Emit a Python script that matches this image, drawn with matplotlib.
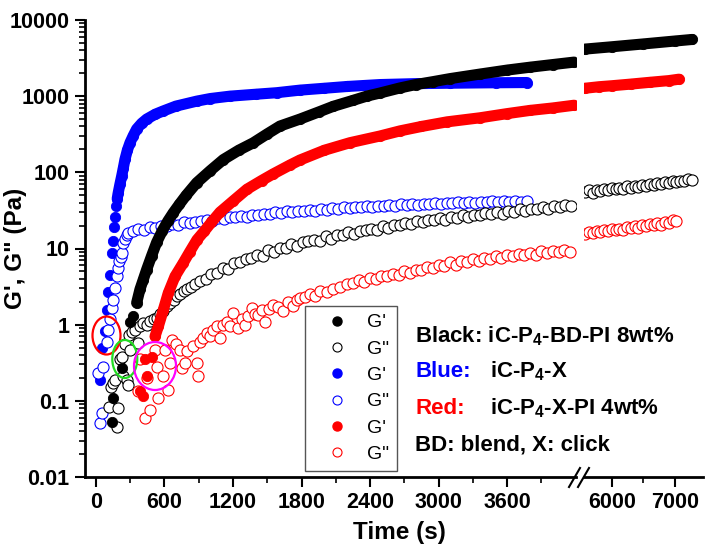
import matplotlib
matplotlib.use("Agg")
import matplotlib.pyplot as plt
import numpy as np
from matplotlib.patches import Ellipse
from matplotlib.lines import Line2D
from matplotlib.ticker import FixedLocator, FixedFormatter, LogLocator, NullFormatter

plt.rcParams['font.family'] = 'Liberation Sans'
plt.rcParams['font.weight'] = 'bold'
plt.rcParams['mathtext.fontset'] = 'custom'
plt.rcParams['mathtext.rm'] = 'Liberation Sans:bold'
plt.rcParams['mathtext.default'] = 'rm'

# ---- data (time in s, modulus in Pa) ----
black_gp_t = [137, 152, 225, 298, 327, 356, 385, 414, 444, 487, 531, 580, 630, 677, 730, 790, 882,
              1000, 1115, 1250, 1377, 1500, 1611, 1786, 1950, 2077, 2250, 2370, 2487, 2660, 2800,
              2950, 3100, 3362, 3600, 3800, 4000, 4186,
              5578, 6000, 6500, 7000, 7265]
black_gp_v = [0.052, 0.108, 0.27, 1.1, 1.29, 1.93, 2.9, 3.9, 5.3, 8.0, 12.0, 17.0, 23.0, 29.5, 38, 50, 73,
              105, 147, 195, 244, 320, 405, 500, 620, 735, 880, 1000, 1100, 1280, 1420,
              1550, 1700, 1950, 2200, 2400, 2600, 2800,
              4150, 4450, 4850, 5300, 5550]

black_gpp_t = [118, 128, 152, 166, 181, 195, 210, 225, 236, 254, 268, 280, 289, 298, 315, 340, 371, 385,
               410, 444, 475, 505, 531, 560, 590, 619, 650, 680, 707, 740, 770, 800, 830, 870, 911,
               960, 1010, 1060, 1110, 1160, 1210, 1260, 1310, 1360, 1410, 1460, 1510, 1560, 1610, 1660,
               1710, 1760, 1810, 1860, 1910, 1960, 2010, 2060, 2110, 2160, 2210, 2260, 2310, 2360, 2410,
               2460, 2510, 2560, 2610, 2660, 2710, 2760, 2810, 2860, 2910, 2960, 3010, 3060, 3110, 3160,
               3210, 3260, 3310, 3360, 3410, 3460, 3510, 3560, 3610, 3660, 3710, 3760, 3810, 3860, 3910,
               3960, 4010, 4060, 4110, 4160,
               5580, 5640, 5700, 5760, 5820, 5880, 5940, 6000, 6060, 6120, 6180, 6240, 6300, 6360, 6420,
               6480, 6540, 6600, 6660, 6720, 6780, 6840, 6900, 6960, 7020, 7080, 7140, 7200, 7260]
black_gpp_v = [0.084, 0.154, 0.17, 0.19, 0.046, 0.080, 0.35, 0.38, 0.21, 0.55, 0.19, 0.16, 0.74, 0.47,
               0.80, 0.85, 0.57, 0.95, 1.05, 1.0, 1.12, 1.18, 1.22, 1.4, 1.5, 1.74, 1.9, 2.1, 2.36, 2.5,
               2.75, 2.9, 3.1, 3.4, 3.7,
               4.0, 4.6, 4.8, 5.5, 5.4, 6.4, 6.6, 7.3, 7.6, 8.3, 8.0, 9.7, 9.1, 10.2, 10.3, 11.6, 10.8,
               12.2, 12.6, 13.0, 12.7, 14.5, 13.5, 15.1, 15.0, 16.6, 15.6, 17.0, 17.3, 18.2, 17.5, 19.8,
               18.6, 20.6, 20.3, 21.8, 21.0, 22.9, 22.6, 23.7, 23.4, 25.4, 23.9, 25.8, 25.3, 27.2, 25.7,
               27.6, 27.4, 29.0, 28.1, 30.6, 28.8, 31.0, 30.3, 32.8, 30.9, 33.5, 33.0, 35.2, 33.4, 36.5,
               34.6, 37.8, 35.9,
               55, 58, 54, 59, 57, 60, 58, 63, 60, 63, 61, 66, 62, 67, 65, 68, 66, 71, 69, 72, 70, 75,
               72, 77, 75, 78, 76, 82, 80]

blue_gp_t = [35, 50, 79, 94, 108, 123, 137, 146, 155, 165, 175, 186, 195, 210, 225, 240, 254, 275, 298,
             325, 356, 400, 444, 520, 590, 700, 882, 1000, 1173, 1400, 1582, 1786, 2000, 2200, 2487,
             2800, 3100, 3500, 3774]
blue_gp_v = [0.19, 0.49, 0.82, 1.57, 2.7, 4.5, 8.8, 12.5, 19, 26, 36, 45, 54, 70, 89, 115, 148, 195, 245,
             300, 370, 440, 500, 580, 640, 740, 860, 930, 1000, 1060, 1110, 1200, 1270, 1340, 1420,
             1460, 1480, 1500, 1510]

blue_gpp_t = [20, 35, 50, 64, 95, 102, 120, 137, 152, 166, 181, 195, 205, 215, 225, 239, 254, 268, 283,
              320, 370, 420, 470, 520, 570, 620, 670, 720, 770, 820, 870, 920, 970, 1020, 1070, 1120,
              1170, 1220, 1270, 1320, 1370, 1420, 1470, 1520, 1570, 1620, 1670, 1720, 1770, 1820, 1870,
              1920, 1970, 2020, 2070, 2120, 2170, 2220, 2270, 2320, 2370, 2420, 2470, 2520, 2570, 2620,
              2670, 2720, 2770, 2820, 2870, 2920, 2970, 3020, 3070, 3120, 3170, 3220, 3270, 3320, 3370,
              3420, 3470, 3520, 3570, 3620, 3670, 3720, 3770]
blue_gpp_v = [0.23, 0.051, 0.069, 0.28, 0.60, 0.86, 1.2, 1.66, 2.1, 3.0, 4.3, 5.6, 6.8, 7.8, 8.8, 11.9,
              13.5, 15.0, 16.0,
              17.2, 18.0, 17.6, 18.9, 18.7, 19.8, 19.5, 21.0, 20.4, 22.0, 21.6, 22.4, 22.9, 23.6, 23.3,
              25.4, 24.3, 25.6, 25.8, 27.1, 26.2, 27.9, 27.4, 28.6, 28.3, 29.8, 29.2, 30.7, 29.9, 31.2,
              30.8, 32.3, 31.4, 32.8, 32.2, 33.7, 33.0, 34.6, 33.6, 35.0, 34.6, 35.7, 35.3, 36.4, 35.8,
              37.1, 36.4, 37.9, 37.0, 38.3, 37.6, 38.9, 38.2, 39.6, 38.6, 40.0, 39.1, 40.6, 39.5, 40.9,
              39.8, 41.3, 40.2, 41.6, 40.5, 41.8, 40.8, 42.0, 41.0, 42.2]

red_gp_t = [385, 414, 429, 444, 487, 517, 546, 590, 633, 692, 765, 820, 884, 950, 1010, 1086, 1200, 1322,
            1450, 1550, 1700, 1786, 2000, 2224, 2487, 2662, 2850, 3074, 3362, 3600, 3800, 4000, 4186,
            5578, 5800, 6000, 6300, 6600, 6900, 7060]
red_gp_v = [0.133, 0.114, 0.35, 0.21, 0.38, 0.70, 0.95, 1.57, 2.6, 4.3, 6.5, 9, 13, 17, 22, 30, 42, 60,
            78, 95, 125, 145, 195, 245, 300, 350, 400, 460, 520, 590, 650, 700, 760,
            1270, 1330, 1370, 1440, 1520, 1600, 1670]

red_gpp_t = [371, 385, 429, 444, 473, 517, 531, 546, 590, 604, 633, 648, 663, 700, 736, 750, 779, 794,
             852, 882, 896, 911, 940, 969, 1000, 1027, 1060, 1086, 1115, 1144, 1175, 1202, 1246, 1275,
             1305, 1335, 1363, 1392, 1421, 1450, 1480, 1515, 1553, 1590, 1640, 1685, 1728, 1760, 1786,
             1830, 1874, 1920, 1961, 2020, 2078, 2140, 2195,
             2250, 2300, 2350, 2400, 2450, 2500, 2550, 2600, 2650, 2700, 2750, 2800, 2850, 2900, 2950,
             3000, 3050, 3100, 3150, 3200, 3250, 3300, 3350, 3400, 3450, 3500, 3550, 3600, 3650, 3700,
             3750, 3800, 3850, 3900, 3950, 4000, 4050, 4100, 4150,
             5580, 5640, 5700, 5760, 5820, 5880, 5940, 6000, 6060, 6120, 6180, 6240, 6300, 6360, 6420,
             6480, 6540, 6600, 6660, 6720, 6780, 6840, 6900, 6960, 7020]
red_gpp_v = [0.133, 0.35, 0.059, 0.20, 0.076, 0.47, 0.28, 0.108, 0.21, 0.47, 0.14, 0.31, 0.63, 0.55,
             0.47, 0.27, 0.31, 0.45, 0.52, 0.31, 0.21, 0.60, 0.66, 0.78, 0.70, 0.86, 0.95, 0.67, 1.0,
             1.1, 0.95, 1.43, 0.90, 1.2, 1.0, 1.3, 1.66, 1.4, 1.35, 1.55, 1.1, 1.6, 1.83, 1.7, 1.5,
             2.0, 1.74, 2.1, 2.24, 2.3, 2.5, 2.4, 2.74, 2.7, 2.9, 3.1, 3.4,
             3.5, 3.9, 3.6, 4.1, 4.0, 4.3, 4.4, 4.6, 4.5, 5.1, 4.8, 5.3, 5.3, 5.8, 5.5, 6.1, 5.9, 6.6,
             6.1, 6.8, 6.6, 7.2, 6.8, 7.5, 7.3, 7.9, 7.4, 8.2, 7.9, 8.4, 8.1, 8.8, 8.3, 9.2, 8.6, 9.3,
             8.9, 9.7, 9.1,
             15.5, 16.6, 15.8, 17.0, 16.4, 17.5, 16.8, 18.0, 17.4, 18.3, 17.7, 19.0, 18.4, 19.6, 18.8,
             20.2, 19.5, 20.8, 20.1, 21.5, 20.6, 22.3, 21.6, 23.5, 22.8]

ytick_vals = [0.01, 0.1, 1, 10, 100, 1000, 10000]
ytick_labels = ['0.01', '0.1', '1', '10', '100', '1000', '10000']
xticks_left = [0, 600, 1200, 1800, 2400, 3000, 3600]
xticks_right = [6000, 7000]

# ---- layout ----
W, H = 714, 557
fig = plt.figure(figsize=(W / 100, H / 100), dpi=100)


def fx(px):
    return px / W


def fy(py):
    return 1 - py / H


ax1 = fig.add_axes([fx(85), fy(477), fx(576) - fx(85), fy(20) - fy(477)])
ax2 = fig.add_axes([fx(584), fy(477), fx(703) - fx(584), fy(20) - fy(477)])

MS = 7.4      # filled marker size
MS_OPEN = 8.0  # open marker size


def draw(t, v, color, filled, z, line_from=None):
    t = np.asarray(t, float)
    v = np.asarray(v, float)
    for ax, lo, hi in ((ax1, -100, 4300), (ax2, 5000, 8000)):
        m = (t >= lo) & (t <= hi)
        if filled:
            ax.plot(t[m], v[m], 'o', ms=MS, color=color, mec=color, mew=0.6, zorder=z)
            if line_from is not None:
                k = m & (t >= line_from)
                ax.plot(t[k], v[k], '-', lw=MS + 0.6, color=color, solid_capstyle='round',
                        solid_joinstyle='round', zorder=z)
        else:
            ax.plot(t[m], v[m], 'o', ms=MS_OPEN, mfc='white', mec=color, mew=0.8, zorder=z)


draw(blue_gp_t, blue_gp_v, '#0000ff', True, 2, line_from=186)
draw(blue_gpp_t, blue_gpp_v, '#0000ff', False, 3)
draw(black_gpp_t, black_gpp_v, 'black', False, 4)
draw(black_gp_t, black_gp_v, 'black', True, 5, line_from=356)
draw(red_gpp_t, red_gpp_v, '#ff0000', False, 6)
draw(red_gp_t, red_gp_v, '#ff0000', True, 7, line_from=517)

for ax in (ax1, ax2):
    ax.set_yscale('log')
    ax.set_ylim(0.01, 10000)
    ax.spines['top'].set_visible(False)
    ax.spines['right'].set_visible(False)
    ax.spines['bottom'].set_linewidth(2)
    ax.tick_params(axis='both', which='major', direction='out', length=7, width=1.5,
                   labelsize=15.5, pad=4)
    ax.tick_params(axis='both', which='minor', direction='out', length=4, width=1.2)

ax1.set_xlim(-96, 4203)
ax2.set_xlim(5562, 7440)
ax1.spines['left'].set_linewidth(2)
ax2.spines['left'].set_visible(False)
ax2.tick_params(axis='y', which='both', left=False, labelleft=False)

ax1.yaxis.set_major_locator(FixedLocator(ytick_vals))
ax1.yaxis.set_major_formatter(FixedFormatter(ytick_labels))
ax1.yaxis.set_minor_locator(LogLocator(base=10, subs=np.arange(2, 10)))
ax1.yaxis.set_minor_formatter(NullFormatter())

ax1.set_xticks(xticks_left)
ax1.set_xticks([t + 300 for t in xticks_left], minor=True)
ax2.set_xticks(xticks_right)
ax2.set_xticks([6500], minor=True)

ax1.set_ylabel('G\', G" (Pa)', fontsize=17.5, fontweight='bold')
ax1.yaxis.set_label_coords(-0.118, 0.5)
fig.text(fx(399), fy(533), 'Time (s)', fontsize=17.5, fontweight='bold', ha='center', va='center')

# break marks
for x0 in (569, 578):
    fig.add_artist(Line2D([fx(x0), fx(x0 + 11)], [fy(487), fy(468)], color='black', lw=1.5,
                          transform=fig.transFigure))

# legend
handles = [
    Line2D([], [], ls='none', marker='o', ms=6.5, color='black'),
    Line2D([], [], ls='none', marker='o', ms=6.5, mfc='white', mec='black', mew=0.8),
    Line2D([], [], ls='none', marker='o', ms=6.5, color='#0000ff'),
    Line2D([], [], ls='none', marker='o', ms=6.5, mfc='white', mec='#0000ff', mew=0.8),
    Line2D([], [], ls='none', marker='o', ms=6.5, color='#ff0000'),
    Line2D([], [], ls='none', marker='o', ms=6.5, mfc='white', mec='#ff0000', mew=0.8),
]
labels = ["G'", 'G"', "G'", 'G"', "G'", 'G"']
leg = fig.legend(handles, labels, loc='upper left', bbox_to_anchor=(fx(305), fy(306)),
                 bbox_transform=fig.transFigure, frameon=True, fancybox=False, framealpha=1,
                 edgecolor='#555555', borderaxespad=0, borderpad=0.4, handlelength=2.5,
                 handletextpad=0.3, labelspacing=0.45, prop={'size': 14, 'weight': 'normal'})
leg.get_frame().set_linewidth(1.0)

# annotations
fs = 16
fig.text(fx(415), fy(342), 'Black: iC-P$_4$-BD-PI 8wt%', fontsize=fs, fontweight='bold', va='baseline')
fig.text(fx(415), fy(377), 'Blue:', fontsize=fs, fontweight='bold', va='baseline', color='#0000ff')
fig.text(fx(490), fy(377), 'iC-P$_4$-X', fontsize=fs, fontweight='bold', va='baseline')
fig.text(fx(415), fy(414), 'Red:', fontsize=fs, fontweight='bold', va='baseline', color='#ff0000')
fig.text(fx(490), fy(414), 'iC-P$_4$-X-PI 4wt%', fontsize=fs, fontweight='bold', va='baseline')
fig.text(fx(415), fy(451), 'BD: blend, X: click', fontsize=fs, fontweight='bold', va='baseline')

# ellipses marking the crossover points
for cx, cy, w, h, c in ((106.5, 335.5, 28, 38, '#ff0000'),
                        (124.8, 359, 25, 38, '#22dd22'),
                        (155, 366, 42, 48, '#ff00ff')):
    fig.add_artist(Ellipse((fx(cx), fy(cy)), w / W, h / H, fill=False, ec=c, lw=1.6,
                           transform=fig.transFigure, zorder=10))

fig.savefig('out.png', dpi=100)
